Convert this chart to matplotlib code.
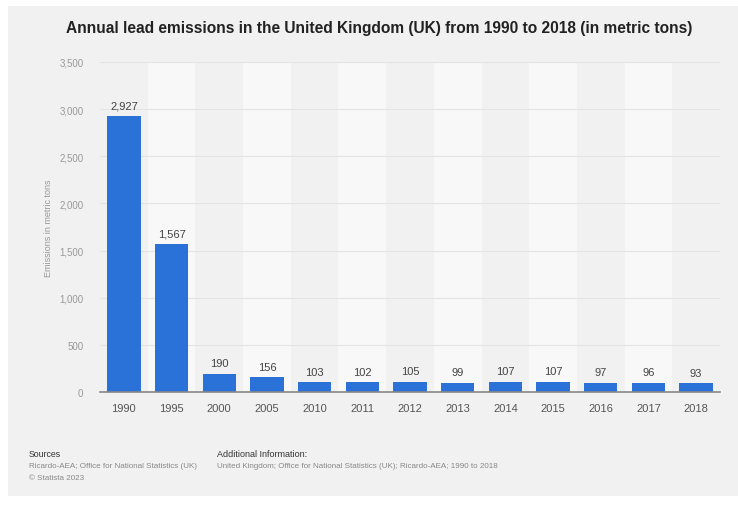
import matplotlib.pyplot as plt
from matplotlib.patches import Rectangle

years = ["1990", "1995", "2000", "2005", "2010", "2011", "2012",
         "2013", "2014", "2015", "2016", "2017", "2018"]
emissions = [2927, 1567, 190, 156, 103, 102, 105, 99, 107, 107, 97, 96, 93]
y_ticks = [0, 500, 1000, 1500, 2000, 2500, 3000, 3500]

plt.rcParams['font.family'] = ['Liberation Sans', 'DejaVu Sans']

bg = '#f1f1f1'
band = '#f8f8f8'
bar_color = '#2a72d8'

fig = plt.figure(figsize=(7.38, 5.06), dpi=100)
fig.patch.set_facecolor('white')
# grey card behind everything
fig.patches.append(Rectangle((8 / 738, 1 - 497 / 506), 730 / 738, 490 / 506,
                             transform=fig.transFigure, facecolor=bg,
                             edgecolor='none', zorder=-10))

ax = fig.add_axes([100 / 738, 1 - 393 / 506, 620 / 738, 330 / 506])
ax.set_facecolor(bg)

x = list(range(len(years)))
# alternating column bands
for i in x:
    if i % 2 == 1:
        ax.axvspan(i - 0.5, i + 0.5, color=band, zorder=0, lw=0)

for t in y_ticks[1:]:
    ax.axhline(t, color='#e4e4e4', lw=0.8, zorder=1)

bars = ax.bar(x, emissions, width=0.7, color=bar_color, zorder=2)
for xi, v in zip(x, emissions):
    ax.text(xi, v + 60, f"{v:,}", ha='center', va='bottom',
            fontsize=8, color='#444444')

ax.set_xlim(-0.5, 12.5)
ax.set_ylim(0, 3500)
ax.set_xticks(x)
ax.set_xticklabels(years)
ax.set_yticks(y_ticks)
ax.set_yticklabels([f"{t:,}" for t in y_ticks])
ax.tick_params(axis='x', length=0, pad=8, labelsize=8, labelcolor='#555555')
ax.tick_params(axis='y', length=0, pad=12, labelsize=7, labelcolor='#999999')

for s in ['top', 'right', 'left']:
    ax.spines[s].set_visible(False)
ax.spines['bottom'].set_color('#888888')
ax.spines['bottom'].set_linewidth(1.2)

ax.set_ylabel("Emissions in metric tons", fontsize=6.5, color='#999999')
ax.yaxis.set_label_coords((53 - 100) / 620, 0.5)

fig.text(379 / 738, 1 - 28 / 506, "Annual lead emissions in the United Kingdom (UK) from 1990 to 2018 (in metric tons)",
         ha='center', va='center', fontsize=11.2, fontweight='bold', color='#222222')

fig.text(29 / 738, 1 - 455 / 506, "Sources", fontsize=6.3, color='#333333', va='center')
fig.text(29 / 738, 1 - 467 / 506, "Ricardo-AEA; Office for National Statistics (UK)",
         fontsize=5.8, color='#888888', va='center')
fig.text(29 / 738, 1 - 479 / 506, "\u00a9 Statista 2023", fontsize=5.8, color='#888888', va='center')
fig.text(217 / 738, 1 - 455 / 506, "Additional Information:", fontsize=6.5, color='#333333', va='center')
fig.text(217 / 738, 1 - 467 / 506,
         "United Kingdom; Office for National Statistics (UK); Ricardo-AEA; 1990 to 2018",
         fontsize=5.8, color='#888888', va='center')

fig.savefig('out.png', dpi=100, facecolor=fig.get_facecolor())
